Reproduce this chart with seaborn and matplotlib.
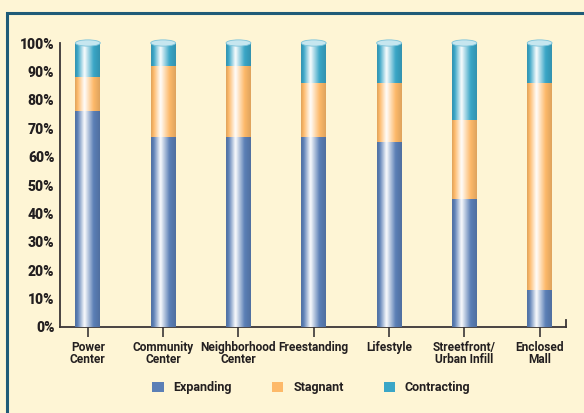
import numpy as np
import pandas as pd
import matplotlib
matplotlib.use("Agg")
import matplotlib.pyplot as plt
import matplotlib.colors as mcolors
from matplotlib.patches import Rectangle, Ellipse, Patch
import seaborn as sns

categories = ["Power\nCenter", "Community\nCenter", "Neighborhood\nCenter", "Freestanding",
              "Lifestyle", "Streetfront/\nUrban Infill", "Enclosed\nMall"]
expanding = [76, 67, 67, 67, 65, 45, 13]
stagnant = [12, 25, 25, 19, 21, 28, 73]
contracting = [12, 8, 8, 14, 14, 27, 14]
series_names = ["Expanding", "Stagnant", "Contracting"]
y_ticks = [0, 10, 20, 30, 40, 50, 60, 70, 80, 90, 100]

colors = {"Expanding": "#5b7fb6", "Stagnant": "#fdb969", "Contracting": "#3aa6c7"}
bg = "#fef5d5"
text_color = "#231f20"

sns.set_theme(style="white")
plt.rcParams["font.family"] = ["Roboto", "DejaVu Sans"]

df = pd.DataFrame({"category": categories, "Expanding": expanding,
                   "Stagnant": stagnant, "Contracting": contracting})
df["cum_exp"] = df["Expanding"]
df["cum_stag"] = df["Expanding"] + df["Stagnant"]
df["cum_all"] = df["cum_stag"] + df["Contracting"]

fig = plt.figure(figsize=(5.84, 4.13), dpi=100, facecolor=bg)
ax = fig.add_axes([60 / 584, 1 - 327 / 413, (566 - 60) / 584, (327 - 43) / 413])
ax.set_facecolor(bg)

layers = [("cum_all", "Contracting"), ("cum_stag", "Stagnant"), ("cum_exp", "Expanding")]
bar_w = 0.33
for li, (col, name) in enumerate(layers):
    n_before = len(ax.patches)
    sns.barplot(data=df, x="category", y=col, color=colors[name], width=bar_w,
                saturation=1, ax=ax, zorder=2 + li * 2, linewidth=0, errorbar=None)
    new_patches = ax.patches[n_before:]
    base = np.array(mcolors.to_rgb(colors[name]))
    white = np.ones(3)
    dark = base * 0.88
    stops = [(0.0, dark), (0.1, base), (0.3, base * 0.3 + white * 0.7),
             (0.38, white * 0.98 + base * 0.02), (0.5, base * 0.35 + white * 0.65),
             (0.75, base), (1.0, dark)]
    xs = np.linspace(0, 1, 64)
    grad = np.zeros((1, 64, 3))
    for c in range(3):
        grad[0, :, c] = np.interp(xs, [s[0] for s in stops], [s[1][c] for s in stops])
    for p in new_patches:
        x0, y0, w, h = p.get_x(), p.get_y(), p.get_width(), p.get_height()
        im = ax.imshow(grad, extent=[x0, x0 + w, y0, y0 + h], aspect="auto",
                       zorder=2 + li * 2 + 1, interpolation="bicubic")
        im.set_clip_path(p)
        if name == "Contracting":
            cap = Ellipse((x0 + w / 2, y0 + h), w, 2.2, facecolor="#c6e6ef",
                          edgecolor="#7cc3da", linewidth=0.6, zorder=20, clip_on=False)
            ax.add_patch(cap)

ax.set_xlim(-0.37, 6.35)
ax.set_ylim(0, 100)
ax.set_yticks(y_ticks)
ax.set_yticklabels([f"{t}%" for t in y_ticks])
ax.set_xlabel("")
ax.set_ylabel("")
ax.spines["top"].set_visible(False)
ax.spines["right"].set_bounds(0, 2.5)
for s in ["left", "bottom", "right"]:
    ax.spines[s].set_color("#3a3536")
    ax.spines[s].set_linewidth(1.3)
ax.tick_params(axis="y", direction="in", length=6, width=1.2, color="#3a3536",
               labelsize=10, labelcolor=text_color, pad=4, right=False)
ax.tick_params(axis="x", direction="out", length=7, width=1.2, color="#3a3536",
               labelsize=8.6, labelcolor=text_color, pad=3, bottom=True)
for lab in ax.get_yticklabels():
    lab.set_fontweight("heavy")
for lab in ax.get_xticklabels():
    lab.set_fontweight("bold")
    lab.set_linespacing(0.95)

handles = [Patch(facecolor=colors[n], edgecolor="none", label=n) for n in series_names]
leg = fig.legend(handles=handles, loc="center", bbox_to_anchor=(0.533, 1 - 388 / 413),
                 ncol=3, frameon=False, fontsize=9, handlelength=0.9, handleheight=0.9,
                 columnspacing=3.2, handletextpad=0.8)
for t in leg.get_texts():
    t.set_color(text_color)
    t.set_fontweight("bold")

frame = Rectangle((7 / 584, -0.1), 1.2, 1 - 13 / 413 + 0.1, transform=fig.transFigure,
                  facecolor="none", edgecolor="#1f5b78", linewidth=2.2, zorder=0)
fig.add_artist(frame)

fig.savefig("out.png", dpi=100, facecolor=bg)
